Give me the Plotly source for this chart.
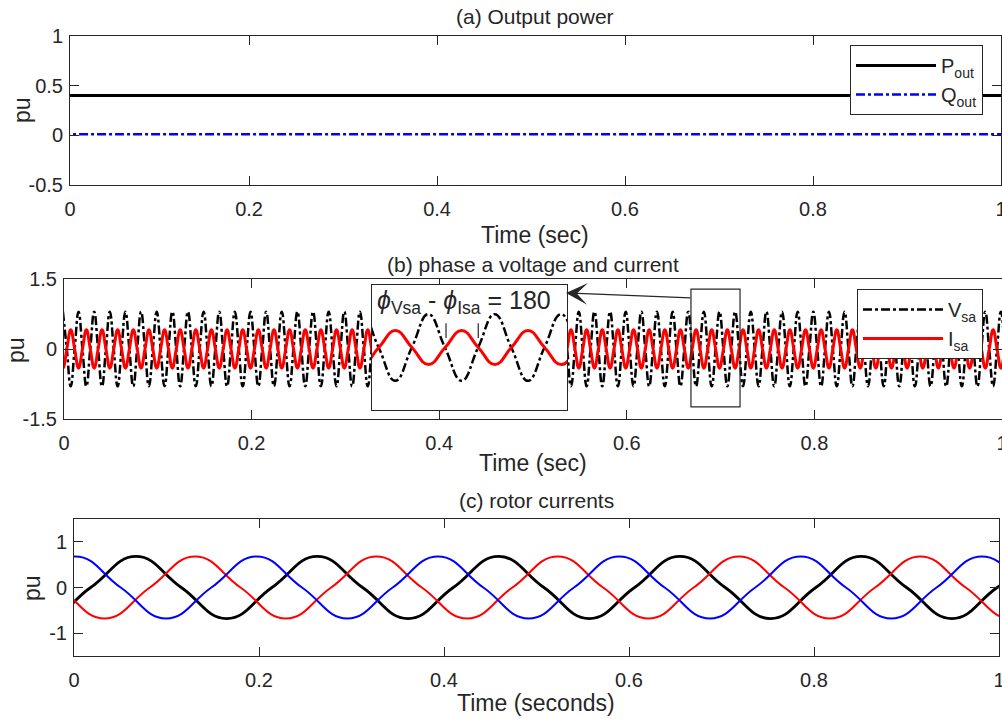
import numpy as np
import plotly.graph_objects as go

W, H = 1002, 719
FONT = "Liberation Sans"
TXT = "#262626"
AX = "#262626"

# ---------------- data ----------------
x_ticks = [0, 0.2, 0.4, 0.6, 0.8, 1.0]
x_tick_labels = ["0", "0.2", "0.4", "0.6", "0.8", "1"]
xa_range = [0.0095, 1.0]                       # panel (a) starts just after 0
xa_ticks = [0.0095, 0.2, 0.4, 0.6, 0.8, 1.0]

# (a) output power
t_pq = [0.0, 0.25, 0.5, 0.75, 1.0]
p_out = [0.40, 0.40, 0.40, 0.40, 0.40]
q_out = [0.01, 0.01, 0.01, 0.01, 0.01]
ya_ticks = [-0.5, 0, 0.5, 1]
ya_labels = ["-0.5", "0", "0.5", "1"]

# (b) phase a voltage and current: key points of one cycle [peak, zero, trough, zero]
grid_period = 1 / 60
vsa_cycle = [0.80, 0.0, -0.80, 0.0]
isa_cycle = [0.41, 0.0, -0.41, 0.0]
vsa_first_peak = 0.0155
isa_first_peak = 0.0072
yb_ticks = [-1.5, 0, 1.5]
yb_labels = ["-1.5", "0", "1.5"]
zoom_window = [0.668, 0.717]          # time span shown in the inset
zoom_box_t = [0.6684, 0.7207]         # small rectangle on the main trace
zoom_box_v = [-1.24, 1.285]
phase_marks_t = [0.6866, 0.6947]      # zero-crossing markers in the inset
phase_marks_v = [0.23, 0.58]

# (c) rotor currents
rotor_period = 0.196
rotor_cycle = [0.68, 0.0, -0.68, 0.0]
ir_black_first_peak = 0.067
ir_red_first_peak = 0.131
ir_blue_first_peak = 0.0015
yc_ticks = [-1, 0, 1]
yc_labels = ["-1", "0", "1"]


def key_points(first_peak, period, cycle, t_end=1.0):
    step = period / len(cycle)
    start = first_peak - period
    n = int(np.ceil((t_end - start) / step)) + 3
    t = start + step * np.arange(n)
    v = np.tile(cycle, n // len(cycle) + 1)[:n]
    return t, v


t_v, v_sa = key_points(vsa_first_peak, grid_period, vsa_cycle)
t_i, i_sa = key_points(isa_first_peak, grid_period, isa_cycle)
t_rk, ir_k = key_points(ir_black_first_peak, rotor_period, rotor_cycle)
t_rr, ir_r = key_points(ir_red_first_peak, rotor_period, rotor_cycle)
t_rb, ir_b = key_points(ir_blue_first_peak, rotor_period, rotor_cycle)

fig = go.Figure()

# (a)
fig.add_trace(go.Scatter(x=t_pq, y=p_out, name="P<sub>out</sub>", mode="lines",
                         line=dict(color="black", width=3), xaxis="x", yaxis="y", legend="legend"))
fig.add_trace(go.Scatter(x=t_pq, y=q_out, name="Q<sub>out</sub>", mode="lines",
                         line=dict(color="#0000ff", width=2.5, dash="dashdot"), xaxis="x", yaxis="y",
                         legend="legend"))
# (b)
fig.add_trace(go.Scatter(x=t_v, y=v_sa, name="V<sub>sa</sub>", mode="lines",
                         line=dict(color="black", width=2.5, dash="dashdot", shape="spline", smoothing=1.3),
                         xaxis="x2", yaxis="y2", legend="legend2"))
fig.add_trace(go.Scatter(x=t_i, y=i_sa, name="I<sub>sa</sub>", mode="lines",
                         line=dict(color="#ff0000", width=3, shape="spline", smoothing=1.3),
                         xaxis="x2", yaxis="y2", legend="legend2"))
# inset
fig.add_trace(go.Scatter(x=t_v, y=v_sa, mode="lines", showlegend=False,
                         line=dict(color="black", width=2.5, dash="dashdot", shape="spline", smoothing=1.3),
                         xaxis="x4", yaxis="y4"))
fig.add_trace(go.Scatter(x=t_i, y=i_sa, mode="lines", showlegend=False,
                         line=dict(color="#ff0000", width=3, shape="spline", smoothing=1.3),
                         xaxis="x4", yaxis="y4"))
# (c)
fig.add_trace(go.Scatter(x=t_rk, y=ir_k, mode="lines", showlegend=False,
                         line=dict(color="black", width=2.8, shape="spline", smoothing=1.3),
                         xaxis="x3", yaxis="y3"))
fig.add_trace(go.Scatter(x=t_rr, y=ir_r, mode="lines", showlegend=False,
                         line=dict(color="#ff0000", width=2, shape="spline", smoothing=1.3),
                         xaxis="x3", yaxis="y3"))
fig.add_trace(go.Scatter(x=t_rb, y=ir_b, mode="lines", showlegend=False,
                         line=dict(color="#0000ff", width=2, shape="spline", smoothing=1.3),
                         xaxis="x3", yaxis="y3"))

tickfont = dict(family=FONT, size=20, color=TXT)
common = dict(showline=True, linecolor=AX, linewidth=1, mirror="ticks", ticks="inside",
              ticklen=9, tickcolor=AX, tickwidth=1, showgrid=False, zeroline=False,
              tickfont=tickfont, automargin=False, ticklabeloverflow="allow")
xcommon = dict(ticktext=x_tick_labels, ticklabelstandoff=6, **common)
inset_ax = dict(showline=True, mirror=True, linecolor=AX, linewidth=1, ticks="",
                showticklabels=False, showgrid=False, zeroline=False, automargin=False)

legend_font = dict(family=FONT, size=20, color=TXT)

fig.update_layout(
    template="none",
    width=W, height=H, autosize=False,
    margin=dict(l=0, r=0, t=0, b=0, pad=0, autoexpand=False),
    paper_bgcolor="white", plot_bgcolor="white",
    font=dict(family=FONT, color=TXT),
    xaxis=dict(domain=[70 / W, 1001 / W], anchor="y", range=xa_range, tickvals=xa_ticks, **xcommon),
    yaxis=dict(domain=[1 - 185 / H, 1 - 36 / H], anchor="x", range=[-0.5, 1],
               tickvals=ya_ticks, ticktext=ya_labels, ticklabelstandoff=2, **common),
    xaxis2=dict(domain=[64 / W, 1.0], anchor="y2", range=[0, 1], tickvals=x_ticks, **xcommon),
    yaxis2=dict(domain=[1 - 419 / H, 1 - 279 / H], anchor="x2", range=[-1.5, 1.5],
                tickvals=yb_ticks, ticktext=yb_labels, ticklabelstandoff=2, **common),
    xaxis3=dict(domain=[74 / W, 999 / W], anchor="y3", range=[0, 1], tickvals=x_ticks, **xcommon),
    yaxis3=dict(domain=[1 - 656 / H, 1 - 519 / H], anchor="x3", range=[-1.5, 1.5],
                tickvals=yc_ticks, ticktext=yc_labels, ticklabelstandoff=2, **common),
    xaxis4=dict(domain=[372 / W, 567 / W], anchor="y4", range=zoom_window, **inset_ax),
    yaxis4=dict(domain=[1 - 410 / H, 1 - 285 / H], anchor="x4", range=[-1.5, 1.5], **inset_ax),
    legend=dict(x=983 / W, y=1 - 45 / H, xanchor="right", yanchor="top", bgcolor="white",
                bordercolor=AX, borderwidth=1, font=legend_font, itemwidth=80,
                traceorder="normal"),
    legend2=dict(x=983 / W, y=1 - 289 / H, xanchor="right", yanchor="top", bgcolor="white",
                 bordercolor=AX, borderwidth=1, font=legend_font, itemwidth=80,
                 traceorder="normal"),
)

# inset background, zoom box, phase markers
fig.add_shape(type="rect", xref="x4", yref="y4", x0=zoom_window[0], x1=zoom_window[1],
              y0=-1.5, y1=1.5, fillcolor="white", line=dict(width=0), layer="below")
fig.add_shape(type="rect", xref="x2", yref="y2", x0=zoom_box_t[0], x1=zoom_box_t[1],
              y0=zoom_box_v[0], y1=zoom_box_v[1], line=dict(color=AX, width=1.2),
              fillcolor="rgba(0,0,0,0)", layer="above")
for tm in phase_marks_t:
    fig.add_shape(type="line", xref="x4", yref="y4", x0=tm, x1=tm, y0=phase_marks_v[0],
                  y1=phase_marks_v[1], line=dict(color=AX, width=1.2), layer="above")

title_font = dict(family=FONT, size=21, color=TXT)
label_font = dict(family=FONT, size=23, color=TXT)
ann = []
for txt, xc, yc in [("(a) Output power", 535, 17),
                    ("(b) phase a voltage and current", 533, 264),
                    ("(c) rotor currents", 536, 500)]:
    ann.append(dict(text=txt, x=xc / W, y=1 - yc / H, xref="paper", yref="paper",
                    showarrow=False, xanchor="center", yanchor="middle", font=title_font))
for txt, xc, yc in [("Time (sec)", 535, 235), ("Time (sec)", 533, 463),
                    ("Time (seconds)", 536, 703)]:
    ann.append(dict(text=txt, x=xc / W, y=1 - yc / H, xref="paper", yref="paper",
                    showarrow=False, xanchor="center", yanchor="middle", font=label_font))
for xc, yc in [(22, 110), (16, 350), (32, 588)]:
    ann.append(dict(text="pu", x=xc / W, y=1 - yc / H, xref="paper", yref="paper",
                    showarrow=False, xanchor="center", yanchor="middle", textangle=-90,
                    font=label_font))
ann.append(dict(text="<i>ϕ</i><sub>Vsa</sub> - <i>ϕ</i><sub>Isa</sub> = 180",
                x=375 / W, y=1 - 284 / H, xref="paper", yref="paper", showarrow=False,
                xanchor="left", yanchor="top", font=dict(family=FONT, size=25, color=TXT)))
ann.append(dict(text="", x=566 / W, y=1 - 293 / H, xref="paper", yref="paper",
                ax=126, ay=5, showarrow=True,
                arrowhead=3, arrowsize=3, arrowwidth=1.2, arrowcolor=AX))
fig.update_layout(annotations=ann)

fig.write_html("out.html",
               config={"displayModeBar": False},
               post_script="document.body.style.margin='0';"
                           "document.body.style.overflow='hidden';")
